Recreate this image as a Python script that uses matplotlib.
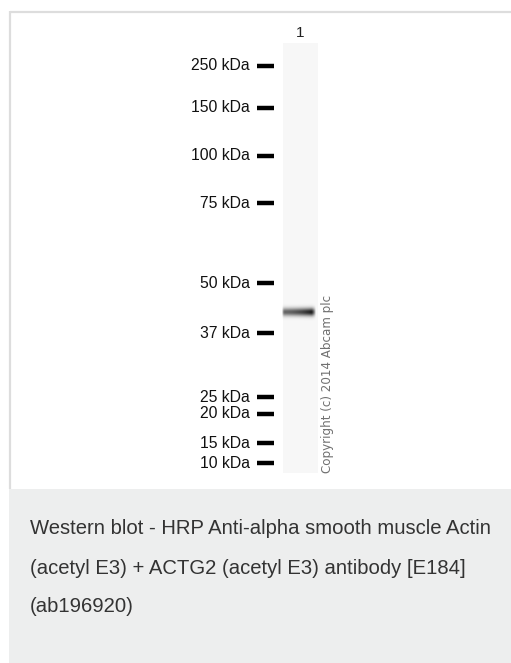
import numpy as np
import matplotlib.pyplot as plt
from matplotlib.patches import Rectangle

# marker ladder (kDa) and where each runs on the blot (pixels from top)
marker_kda = [250, 150, 100, 75, 50, 37, 25, 20, 15, 10]
marker_pos = [66, 108, 156, 203, 283, 333, 397, 414, 443, 463]
marker_labels = ["%d kDa" % k for k in marker_kda]

lanes = ["1"]
band_pos = [312]          # band centre per lane
band_strength = [1.0]

caption = ["Western blot - HRP Anti-alpha smooth muscle Actin",
           "(acetyl E3) + ACTG2 (acetyl E3) antibody [E184]",
           "(ab196920)"]
copyright_txt = "Copyright (c) 2014 Abcam plc"

W, H = 511, 663
fig = plt.figure(figsize=(W / 100, H / 100), dpi=100)
ax = fig.add_axes([0, 0, 1, 1])
ax.set_xlim(0, W)
ax.set_ylim(H, 0)
ax.axis("off")

# frame + caption panel
ax.add_patch(Rectangle((9, 489), W, H - 489, color="#edeeee", lw=0, zorder=1))
ax.plot([10, W], [12, 12], color="#dddddd", lw=1.6, zorder=2, solid_capstyle="butt")
ax.plot([10, 10], [11, 489], color="#dddddd", lw=1.6, zorder=2, solid_capstyle="butt")

# lane
lane_x0, lane_x1 = 283, 318
ax.add_patch(Rectangle((lane_x0, 43), lane_x1 - lane_x0, 430, color="#f7f7f7", lw=0, zorder=2))
for i, name in enumerate(lanes):
    ax.text((lane_x0 + lane_x1) / 2, 33, name, ha="center", va="center",
            fontsize=11, family="Liberation Sans", color="#222222", zorder=5)

# band: blurred smear, heavier toward the right edge
for pos, s in zip(band_pos, band_strength):
    xs = np.linspace(0, 1, 60)
    ys = np.linspace(-1, 1, 40)
    prof_x = (0.6 + 0.4 * xs ** 2) * np.clip((1 - xs) / 0.12, 0, 1) ** 0.7 \
        * np.clip(xs / 0.06, 0, 1) ** 0.5
    prof_y = np.exp(-(ys / 0.4) ** 2)
    img = s * np.outer(prof_y, prof_x)
    rgba = np.zeros(img.shape + (4,))
    rgba[..., 3] = np.clip(img, 0, 1)
    ax.imshow(rgba, extent=(lane_x0 - 1, lane_x1 - 2, pos + 10, pos - 10),
              aspect="auto", interpolation="bicubic", zorder=3)

# ladder labels and ticks
for lab, y in zip(marker_labels, marker_pos):
    ax.text(250, y, lab, ha="right", va="center", fontsize=11.3,
            family="Liberation Sans", color="#111111", zorder=5)
    ax.plot([257, 274], [y, y], color="black", lw=3.2, solid_capstyle="butt", zorder=5)

ax.text(327, 473, copyright_txt, rotation=90, ha="center", va="bottom",
        fontsize=8.6, family="DejaVu Sans", color="#707070", zorder=5)

for i, line in enumerate(caption):
    ax.text(30, 529 + i * 39, line, ha="left", va="center", fontsize=14.6,
            family="Liberation Sans", color="#333333", zorder=5)

fig.savefig("out.png", dpi=100)
